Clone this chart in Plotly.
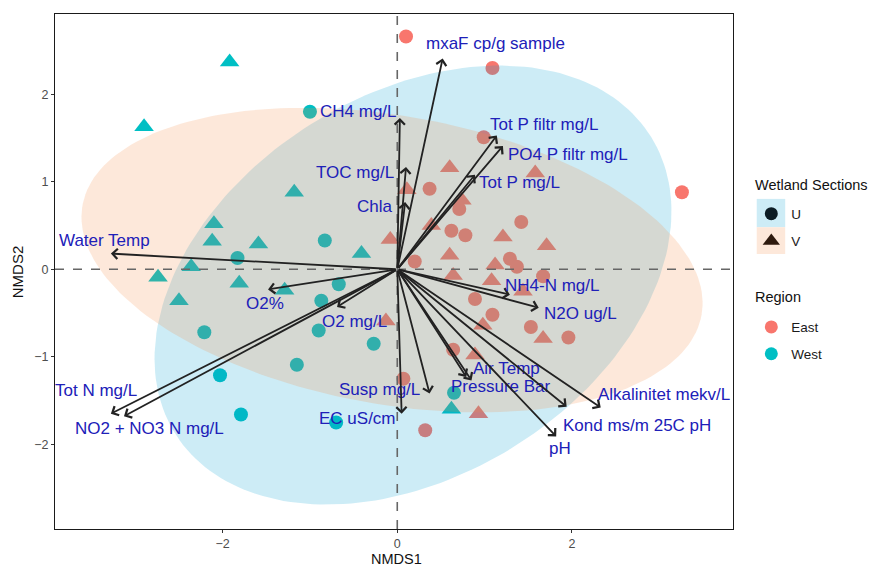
import numpy as np
import plotly.graph_objects as go

# ---------------- data ----------------
west_v_x = [-1.92, -2.90, -1.18, -2.10, -2.12, -1.59, -0.41, -2.36, -2.74, -1.81, -2.50, -1.29, 0.62]
west_v_y = [2.37, 1.63, 0.88, 0.52, 0.32, 0.29, 0.18, 0.03, -0.09, -0.16, -0.36, -0.24, -1.60]

west_u_x = [-1.00, -0.83, -1.83, -0.67, -0.87, -2.21, -0.90, -0.27, -1.15, -2.03, -1.79, -0.70, 0.65]
west_u_y = [1.80, 0.33, 0.13, -0.17, -0.36, -0.72, -0.70, -0.85, -1.09, -1.21, -1.66, -1.75, -1.41]

east_u_x = [0.10, 1.09, 0.99, 3.26, 0.37, 0.71, 1.42, 0.62, 0.78, 0.20, 1.29, 1.37, 1.67, 0.89, 1.09, 1.53, 1.96, 0.64, 0.07, 0.32]
east_u_y = [2.66, 2.30, 1.51, 0.88, 0.92, 0.69, 0.54, 0.44, 0.39, 0.09, 0.12, 0.03, -0.08, -0.34, -0.52, -0.66, -0.78, -0.92, -1.25, -1.84]

east_v_x = [0.60, 1.58, 0.11, 0.74, 0.39, 1.21, 1.71, -0.08, 0.60, 1.12, 0.64, 1.08, 1.44, 0.98, 1.67, -0.13, 0.89, 0.93]
east_v_y = [1.16, 1.10, 0.91, 0.79, 0.50, 0.37, 0.27, 0.34, 0.16, 0.05, -0.07, -0.13, -0.25, -0.64, -0.79, -0.59, -0.98, -1.65]

vec_names = ["mxaF cp/g sample", "CH4 mg/L", "TOC mg/L", "Chla", "Tot P filtr mg/L",
             "PO4 P filtr mg/L", "Tot P mg/L", "Water Temp", "O2%", "O2 mg/L",
             "Tot N mg/L", "NO2 + NO3 N mg/L", "Susp mg/L", "EC uS/cm", "NH4-N mg/L",
             "N2O ug/L", "Air Temp", "Pressure Bar", "Kond ms/m 25C pH",
             "Alkalinitet mekv/L", "pH"]
vec_x = [0.52, 0.03, 0.10, 0.09, 1.14, 1.21, 0.89, -3.28, -1.48, -0.69,
         -3.28, -3.13, 0.37, 0.05, 1.29, 1.62, 0.79, 0.85, 1.94, 2.33, 1.82]
vec_y = [2.41, 1.73, 1.17, 0.77, 1.53, 1.41, 1.08, 0.18, -0.23, -0.43,
         -1.65, -1.68, -1.42, -1.65, -0.29, -0.44, -1.23, -1.27, -1.57, -1.58, -1.91]
lab_x = [1.13, -0.44, -0.48, -0.25, 1.68, 1.95, 1.40, -3.35, -1.52, -0.49,
         -3.45, -2.84, -0.20, -0.45, 1.77, 2.10, 1.25, 1.19, 2.74, 3.05, 1.86]
lab_y = [2.58, 1.80, 1.11, 0.72, 1.65, 1.31, 0.99, 0.33, -0.39, -0.60,
         -1.38, -1.82, -1.37, -1.70, -0.18, -0.50, -1.13, -1.34, -1.79, -1.43, -2.05]

# ellipse parameters: centre x, centre y, semi-major, semi-minor, angle (deg)
ell_u = (0.18, -0.18, 3.21, 2.18, 31.8)
ell_v = (-0.06, 0.105, 3.60, 1.65, -10.0)

x_ticks = [-2, 0, 2]
y_ticks = [-2, -1, 0, 1, 2]

# ---------------- styles ----------------
EAST = "#F8766D"
WEST = "#00BFC4"
FONT = "Liberation Sans"
LABEL_BLUE = "#2020B8"


def ellipse(cx, cy, a, b, ang):
    t = np.linspace(0, 2 * np.pi, 200)
    th = np.deg2rad(ang)
    xs = cx + a * np.cos(t) * np.cos(th) - b * np.sin(t) * np.sin(th)
    ys = cy + a * np.cos(t) * np.sin(th) + b * np.sin(t) * np.cos(th)
    return xs, ys


fig = go.Figure()

pts = [
    (east_u_x, east_u_y, EAST, "circle", 14),
    (east_v_x, east_v_y, EAST, "triangle-up", 17),
    (west_u_x, west_u_y, WEST, "circle", 14),
    (west_v_x, west_v_y, WEST, "triangle-up", 17),
]
for xs, ys, col, sym, sz in pts:
    fig.add_trace(go.Scatter(x=xs, y=ys, mode="markers", showlegend=False,
                             marker=dict(color=col, symbol=sym, size=sz, line=dict(width=0)),
                             hoverinfo="skip"))

for params, fc in [(ell_u, "rgba(5,160,210,0.2)"), (ell_v, "rgba(245,140,70,0.2)")]:
    ex, ey = ellipse(*params)
    fig.add_trace(go.Scatter(x=ex, y=ey, mode="lines", fill="toself", fillcolor=fc,
                             line=dict(width=0, color="rgba(0,0,0,0)"), showlegend=False,
                             hoverinfo="skip"))

# legend entries (each in its own legend for spacing)
fig.add_trace(go.Scatter(x=[None], y=[None], mode="markers", name="U", legend="legend",
                         marker=dict(color="#0c1c24", symbol="circle", size=13)))
fig.add_trace(go.Scatter(x=[None], y=[None], mode="markers", name="V", legend="legend2",
                         marker=dict(color="#2e1a0e", symbol="triangle-up", size=15)))
fig.add_trace(go.Scatter(x=[None], y=[None], mode="markers", name="East", legend="legend3",
                         marker=dict(color=EAST, symbol="circle", size=13)))
fig.add_trace(go.Scatter(x=[None], y=[None], mode="markers", name="West", legend="legend4",
                         marker=dict(color=WEST, symbol="circle", size=13)))

annotations = []
for nm, tx, ty, lx, ly in zip(vec_names, vec_x, vec_y, lab_x, lab_y):
    annotations.append(dict(x=tx, y=ty, ax=0, ay=0, xref="x", yref="y", axref="x", ayref="y",
                            text="", showarrow=True, arrowhead=4, arrowsize=1.1,
                            arrowwidth=1.8, arrowcolor="#222222", standoff=0))
    annotations.append(dict(x=lx, y=ly, xref="x", yref="y", text=nm, showarrow=False,
                            xanchor="center", yanchor="middle",
                            font=dict(family=FONT, size=17, color=LABEL_BLUE)))

# legend titles
annotations.append(dict(x=1.03, y=0.667, xref="paper", yref="paper", xanchor="left", yanchor="middle",
                        text="Wetland Sections", showarrow=False,
                        font=dict(family=FONT, size=14.5, color="#111111")))
annotations.append(dict(x=1.03, y=0.450, xref="paper", yref="paper", xanchor="left", yanchor="middle",
                        text="Region", showarrow=False,
                        font=dict(family=FONT, size=14.5, color="#111111")))
# axis titles
annotations.append(dict(x=0.504, y=-0.059, xref="paper", yref="paper", xanchor="center", yanchor="middle",
                        text="NMDS1", showarrow=False,
                        font=dict(family=FONT, size=14.5, color="#111111")))
annotations.append(dict(x=-0.055, y=0.5, xref="paper", yref="paper", xanchor="center", yanchor="middle",
                        text="NMDS2", showarrow=False, textangle=-90,
                        font=dict(family=FONT, size=15, color="#111111")))

shapes = [
    dict(type="line", xref="x", yref="paper", x0=0, x1=0, y0=0, y1=1,
         line=dict(color="#666666", width=1.6, dash="dash"), layer="above"),
    dict(type="line", xref="paper", yref="y", x0=0, x1=1, y0=0, y1=0,
         line=dict(color="#666666", width=1.6, dash="dash"), layer="above"),
    # legend key backgrounds
    dict(type="rect", xref="paper", yref="paper", x0=1.035, x1=1.077, y0=0.586, y1=0.641,
         fillcolor="#cdecf6", line=dict(width=0), layer="below"),
    dict(type="rect", xref="paper", yref="paper", x0=1.035, x1=1.077, y0=0.534, y1=0.586,
         fillcolor="#fde8da", line=dict(width=0), layer="below"),
]

leg_common = dict(bgcolor="rgba(0,0,0,0)", borderwidth=0, xanchor="left", yanchor="top",
                  font=dict(family=FONT, size=13.5, color="#1a1a1a"))
fig.update_layout(
    width=878, height=566,
    margin=dict(l=47, r=153, t=6, b=45, autoexpand=False),
    paper_bgcolor="white", plot_bgcolor="white",
    font=dict(family=FONT),
    xaxis=dict(range=[-3.92, 3.845], tickvals=x_ticks, ticks="outside", ticklen=3,
               tickcolor="#333333", showgrid=False, zeroline=False, showline=True,
               linecolor="#1a1a1a", linewidth=1.2, mirror=True, automargin=False,
               tickfont=dict(family=FONT, size=12.5, color="#4d4d4d")),
    yaxis=dict(range=[-2.968, 2.918], tickvals=y_ticks, ticks="outside", ticklen=3,
               tickcolor="#333333", showgrid=False, zeroline=False, showline=True,
               linecolor="#1a1a1a", linewidth=1.2, mirror=True, automargin=False,
               tickfont=dict(family=FONT, size=12.5, color="#4d4d4d")),
    annotations=annotations,
    shapes=shapes,
    legend=dict(x=1.027, y=0.642, **leg_common),
    legend2=dict(x=1.027, y=0.589, **leg_common),
    legend3=dict(x=1.027, y=0.422, **leg_common),
    legend4=dict(x=1.027, y=0.370, **leg_common),
)

fig.write_html("out.html")
